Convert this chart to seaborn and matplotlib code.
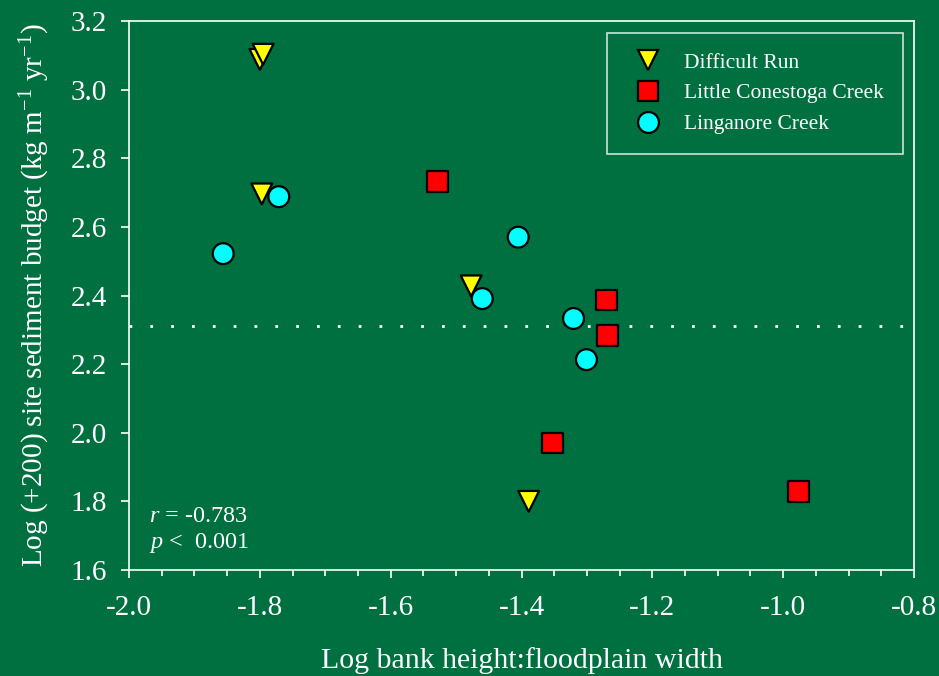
import matplotlib
matplotlib.use("Agg")
import matplotlib.pyplot as plt
import seaborn as sns
import pandas as pd
import numpy as np
from matplotlib.ticker import MultipleLocator, FormatStrFormatter

# ---- data ----
dr_x = [-1.800, -1.795, -1.797, -1.477, -1.389]
dr_y = [3.088, 3.103, 2.696, 2.428, 1.800]
lc_x = [-1.528, -1.270, -1.269, -1.352, -0.977]
lc_y = [2.732, 2.387, 2.283, 1.970, 1.829]
lg_x = [-1.856, -1.771, -1.405, -1.460, -1.3205, -1.3007]
lg_y = [2.522, 2.688, 2.570, 2.391, 2.333, 2.213]
sites = ["Difficult Run", "Little Conestoga Creek", "Linganore Creek"]
ref_line = 2.31
x_ticks = [-2.0, -1.8, -1.6, -1.4, -1.2, -1.0, -0.8]
y_ticks = [1.6, 1.8, 2.0, 2.2, 2.4, 2.6, 2.8, 3.0, 3.2]
stats_text = ["$r$ = -0.783", "$p$ <  0.001"]

df = pd.DataFrame({
    "x": dr_x + lc_x + lg_x,
    "y": dr_y + lc_y + lg_y,
    "site": [sites[0]] * len(dr_x) + [sites[1]] * len(lc_x) + [sites[2]] * len(lg_x),
})

BG = "#007040"
MS = 225
sns.set_theme(style="ticks")
plt.rcParams["font.family"] = ["Liberation Serif", "DejaVu Serif"]
plt.rcParams["mathtext.fontset"] = "custom"
plt.rcParams["mathtext.rm"] = "Liberation Serif"
plt.rcParams["mathtext.it"] = "Liberation Serif:italic"

fig = plt.figure(figsize=(9.39, 6.76), dpi=100, facecolor=BG)
ax = fig.add_axes([129 / 939, 1 - 570 / 676, 785 / 939, 549 / 676])
ax.set_facecolor(BG)

palette = {sites[0]: "#ffff00", sites[1]: "#ff0000", sites[2]: "#00ffff"}
markers = {sites[0]: "v", sites[1]: "s", sites[2]: "o"}
sns.scatterplot(data=df, x="x", y="y", hue="site", style="site",
                palette=palette, markers=markers, hue_order=sites, style_order=sites,
                s=MS, edgecolor="black", linewidth=1.6, ax=ax, zorder=3)

ax.axhline(ref_line, color="white", lw=2.0, linestyle=(0, (1, 6.5)), zorder=2)

ax.set_xlim(-2.0, -0.8)
ax.set_ylim(1.6, 3.2)
ax.set_xticks(x_ticks)
ax.set_yticks(y_ticks)
ax.xaxis.set_minor_locator(MultipleLocator(0.05))
ax.xaxis.set_major_formatter(FormatStrFormatter("%.1f"))
ax.yaxis.set_major_formatter(FormatStrFormatter("%.1f"))

for s in ax.spines.values():
    s.set_color("white")
    s.set_linewidth(1.2)
ax.tick_params(axis="both", which="major", colors="white", labelcolor="white",
               labelsize=21, length=6, width=1.2, direction="out")
ax.tick_params(axis="x", which="major", pad=12)
ax.tick_params(axis="y", which="major", pad=10)
ax.tick_params(axis="x", which="minor", colors="white", length=4, width=1.2, direction="out")

ax.set_xlabel("Log bank height:floodplain width", color="white", fontsize=21.5, labelpad=19)
ax.set_ylabel("Log (+200) site sediment budget (kg m$^{\\mathregular{-1}}$ yr$^{\\mathregular{-1}}$)",
              color="white", fontsize=21, labelpad=13)

ax.text(0.025, 0.097, stats_text[0], transform=ax.transAxes, color="white",
        fontsize=17.5, va="center", ha="left")
ax.text(0.025, 0.050, stats_text[1], transform=ax.transAxes, color="white",
        fontsize=17.5, va="center", ha="left")

handles, labels = ax.get_legend_handles_labels()
leg = ax.legend(handles, labels, loc="upper right", bbox_to_anchor=(0.986, 0.978),
                borderaxespad=0, frameon=True, fancybox=False, fontsize=15.5,
                labelspacing=0.5, handletextpad=0.7, borderpad=0.9,
                handlelength=1.95)
leg.get_frame().set_facecolor(BG)
leg.get_frame().set_edgecolor("white")
leg.get_frame().set_linewidth(1.2)
for h in leg.legend_handles:
    try:
        h.set_markersize(np.sqrt(MS))
        h.set_markeredgewidth(1.6)
    except AttributeError:
        h.set_sizes([MS])
for t in leg.get_texts():
    t.set_color("white")

fig.savefig("out.png", dpi=100, facecolor=BG)
